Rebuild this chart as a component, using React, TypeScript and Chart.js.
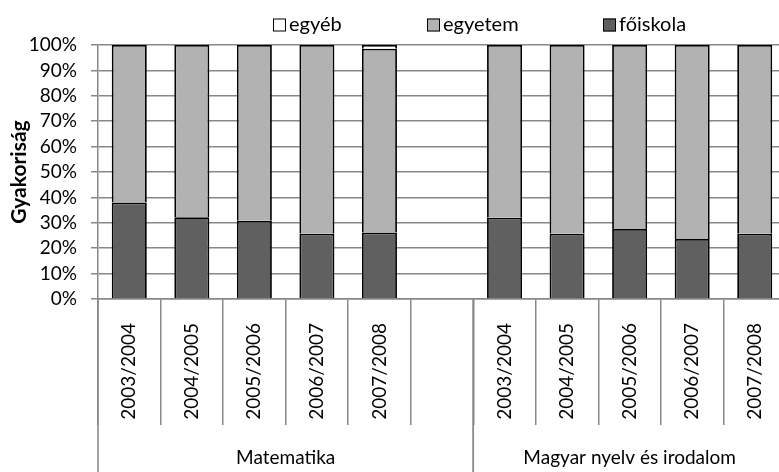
import React, { useEffect, useRef } from "react";
import { Chart, registerables } from "chart.js";

Chart.register(...registerables);

const categories = [
  "2003/2004", "2004/2005", "2005/2006", "2006/2007", "2007/2008", "",
  "2003/2004", "2004/2005", "2005/2006", "2006/2007", "2007/2008",
];
const groups = ["Matematika", "Magyar nyelv és irodalom"];
const groupSizes = [6, 5];

const foiskola = [38.0, 32.2, 30.8, 25.7, 26.2, null, 32.0, 25.7, 27.6, 23.6, 25.7];
const egyetem = [62.0, 67.8, 69.2, 74.3, 72.3, null, 68.0, 74.3, 72.4, 76.4, 74.3];
const egyeb = [0, 0, 0, 0, 1.5, null, 0, 0, 0, 0, 0];

const seriesNames = ["főiskola", "egyetem", "egyéb"];
const seriesColors = ["#606060", "#b2b2b2", "#ffffff"];
const legendOrder = [2, 1, 0];

const FONT = "Lato";

const legendPlugin = {
  id: "customLegend",
  afterDraw(chart: any) {
    const ctx = chart.ctx;
    const boxX = [273, 427, 603];
    ctx.save();
    ctx.font = `20px ${FONT}`;
    ctx.textBaseline = "middle";
    ctx.textAlign = "left";
    legendOrder.forEach((si, i) => {
      const x = boxX[i];
      const y = 25;
      ctx.fillStyle = seriesColors[si];
      ctx.fillRect(x, y - 6.5, 13, 13);
      ctx.strokeStyle = "#000";
      ctx.lineWidth = 1;
      ctx.strokeRect(x + 0.5, y - 6, 12, 12);
      ctx.fillStyle = "#000";
      ctx.fillText(seriesNames[si], x + 16, y);
    });
    ctx.restore();
  },
};

const groupPlugin = {
  id: "groupAxis",
  afterDraw(chart: any) {
    const ctx = chart.ctx;
    const x = chart.scales.x;
    const area = chart.chartArea;
    const h = chart.height;
    const half = (x.getPixelForValue(1) - x.getPixelForValue(0)) / 2;
    ctx.save();
    ctx.strokeStyle = "#888888";
    ctx.lineWidth = 1.5;
    ctx.fillStyle = "#000";
    ctx.font = `19px ${FONT}`;
    ctx.textAlign = "center";
    ctx.textBaseline = "middle";
    let start = 0;
    groups.forEach((g, gi) => {
      const end = start + groupSizes[gi] - 1;
      const left = x.getPixelForValue(start) - half;
      const right = x.getPixelForValue(end) + half;
      ctx.beginPath();
      ctx.moveTo(left, area.bottom);
      ctx.lineTo(left, h);
      ctx.moveTo(right, area.bottom);
      ctx.lineTo(right, h);
      ctx.stroke();
      ctx.fillText(g, (left + right) / 2, 458);
      start = end + 1;
    });
    ctx.restore();
  },
};

export default function App() {
  const ref = useRef<HTMLCanvasElement | null>(null);

  useEffect(() => {
    document.body.style.margin = "0";
    document.body.style.overflow = "hidden";
    const canvas = ref.current;
    if (!canvas) return;
    const datasets = [foiskola, egyetem, egyeb].map((d, i) => ({
      label: seriesNames[i],
      data: d,
      backgroundColor: seriesColors[i],
      borderColor: "#000000",
      borderWidth: 1.8,
      barPercentage: 0.56,
      categoryPercentage: 1,
    }));
    const chart = new Chart(canvas, {
      type: "bar",
      data: { labels: categories, datasets },
      plugins: [legendPlugin, groupPlugin],
      options: {
        animation: false,
        responsive: false,
        devicePixelRatio: 1,
        layout: { padding: { top: 45, left: 0, right: 0, bottom: 0 } },
        plugins: { legend: { display: false }, tooltip: { enabled: false } },
        scales: {
          x: {
            stacked: true,
            offset: true,
            grid: {
              offset: true,
              drawOnChartArea: false,
              tickLength: 126,
              color: "#888888",
              lineWidth: 1.5,
            },
            border: { color: "#888888", width: 1.5 },
            ticks: {
              autoSkip: false,
              maxRotation: 90,
              minRotation: 90,
              padding: -102,
              color: "#000",
              font: { family: FONT, size: 19 },
            },
            afterFit: (s: any) => {
              s.height = 173;
            },
          },
          y: {
            stacked: true,
            min: 0,
            max: 100,
            ticks: {
              stepSize: 10,
              autoSkip: false,
              callback: (v: any) => v + "%",
              color: "#000",
              padding: 14,
              font: { family: FONT, size: 19 },
            },
            grid: { color: "#888888", lineWidth: 1.5, tickLength: 7 },
            border: { color: "#888888", width: 1.5 },
            title: {
              display: true,
              text: "Gyakoriság",
              color: "#000",
              font: { family: FONT, size: 21, weight: "bold" },
              padding: { top: 7, bottom: 0 },
            },
            afterFit: (s: any) => {
              s.width = 98;
            },
          },
        },
      },
    } as any);
    return () => chart.destroy();
  }, []);

  return (
    <div style={{ width: 779, height: 472, overflow: "hidden", position: "relative", background: "#fff" }}>
      <canvas ref={ref} width={786} height={472} style={{ display: "block" }} />
    </div>
  );
}
